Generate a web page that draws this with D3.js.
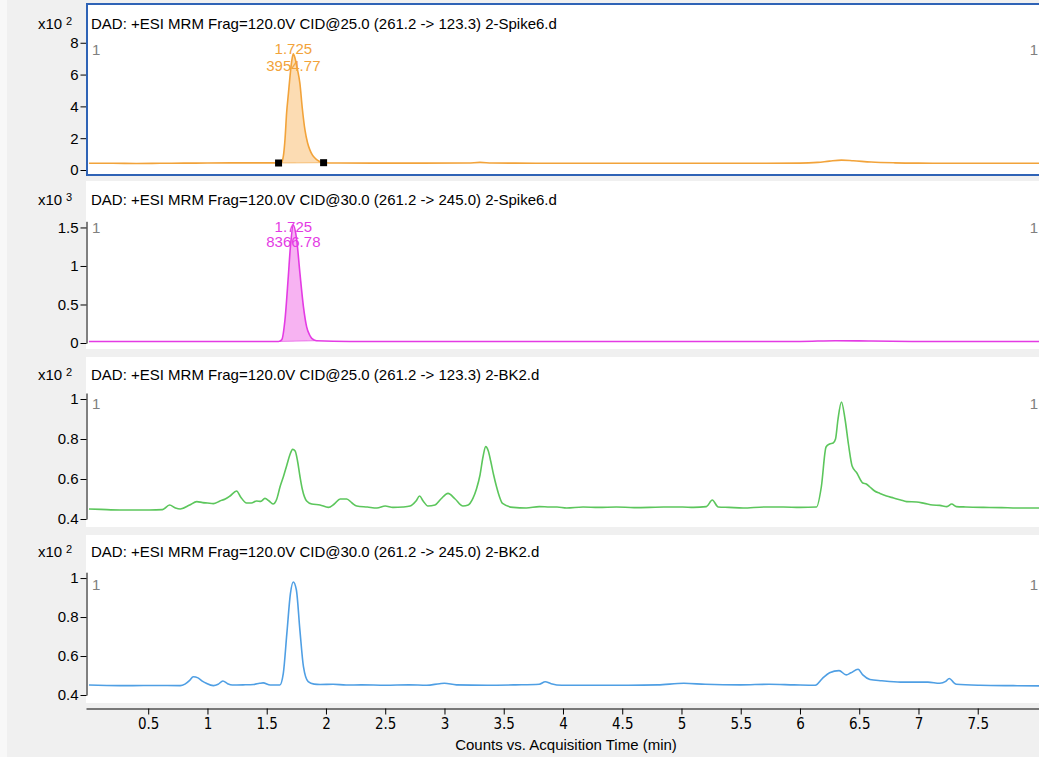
<!DOCTYPE html>
<html><head><meta charset="utf-8">
<script src="https://cdn.jsdelivr.net/npm/d3@7"></script>
<style>html,body{margin:0;padding:0;background:#f0f0f0;}svg{display:block;}</style>
</head><body><svg id="c" width="1039" height="757"></svg>
<script>
// ---------------- DATA ----------------
const timeTicks = [0.5,1,1.5,2,2.5,3,3.5,4,4.5,5,5.5,6,6.5,7,7.5];
const xLabel = "Counts vs. Acquisition Time (min)";
const titles = [
  "DAD: +ESI MRM Frag=120.0V CID@25.0 (261.2 -> 123.3) 2-Spike6.d",
  "DAD: +ESI MRM Frag=120.0V CID@30.0 (261.2 -> 245.0) 2-Spike6.d",
  "DAD: +ESI MRM Frag=120.0V CID@25.0 (261.2 -> 123.3) 2-BK2.d",
  "DAD: +ESI MRM Frag=120.0V CID@30.0 (261.2 -> 245.0) 2-BK2.d"
];
const exponents = ["2","3","2","2"];
const yTicks1 = [0,2,4,6,8];
const yTicks2 = [0,0.5,1,1.5];
const yTicks3 = [0.4,0.6,0.8,1];
const yTicks4 = [0.4,0.6,0.8,1];
const peakRT = "1.725";
const peakAreas = ["3954.77","8366.78"];
const integ1 = [1.6, 1.98];
const integ2 = [1.6, 1.92];

// Spike6 CID@25 (x10^2)
const t1 = [0,0.2,0.4,0.6,0.8,1.0,1.2,1.4,1.5,1.6,1.625,1.64,1.655,1.668,1.683,1.696,1.71,1.724,1.74,1.76,1.78,1.80,1.823,1.845,1.865,1.885,1.907,1.93,1.95,1.98,2.1,2.4,2.8,3.2,3.3,3.4,3.6,4.0,4.5,5.0,5.5,6.0,6.15,6.25,6.35,6.45,6.6,6.8,7.0,7.4,8.02];
const v1 = [0.42,0.42,0.41,0.42,0.43,0.44,0.45,0.45,0.45,0.44,0.5,0.85,2.0,3.6,4.8,5.85,6.8,7.3,7.0,6.3,5.45,3.9,2.5,1.7,1.25,0.95,0.75,0.6,0.52,0.46,0.44,0.43,0.43,0.44,0.48,0.44,0.43,0.42,0.42,0.42,0.42,0.43,0.48,0.56,0.62,0.58,0.5,0.45,0.43,0.42,0.42];

// Spike6 CID@30 (x10^3)
const t2 = [0,0.5,1.0,1.5,1.6,1.626,1.654,1.682,1.70,1.724,1.753,1.78,1.81,1.837,1.86,1.88,1.92,2.2,3.0,4.0,5.0,6.0,6.3,6.6,7.0,8.02];
const v2 = [0.02,0.02,0.02,0.02,0.02,0.04,0.3,0.86,1.25,1.53,1.34,0.91,0.47,0.21,0.11,0.06,0.03,0.02,0.02,0.02,0.02,0.02,0.03,0.025,0.02,0.02];

// BK2 CID@25 (x10^2)
const t3 = [0,0.1,0.26,0.4,0.51,0.62,0.68,0.73,0.77,0.85,0.91,0.96,1.0,1.05,1.105,1.15,1.19,1.246,1.28,1.33,1.37,1.415,1.45,1.485,1.52,1.553,1.585,1.612,1.64,1.67,1.695,1.719,1.74,1.76,1.78,1.80,1.837,1.88,1.95,2.02,2.07,2.12,2.175,2.22,2.26,2.35,2.43,2.50,2.565,2.65,2.71,2.76,2.79,2.82,2.86,2.92,2.97,3.03,3.09,3.156,3.2,3.24,3.27,3.30,3.325,3.348,3.37,3.39,3.415,3.44,3.465,3.49,3.58,3.69,3.80,3.89,3.95,4.03,4.17,4.3,4.45,4.6,4.73,4.85,5.01,5.1,5.21,5.26,5.31,5.4,5.52,5.7,5.86,6.0,6.14,6.18,6.22,6.25,6.28,6.30,6.32,6.35,6.38,6.41,6.44,6.48,6.53,6.56,6.59,6.63,6.675,6.73,6.79,6.85,6.90,6.985,7.05,7.12,7.18,7.24,7.28,7.32,7.4,7.55,7.7,7.83,8.02];
const v3 = [0.45,0.448,0.445,0.445,0.445,0.447,0.47,0.455,0.45,0.47,0.487,0.482,0.48,0.477,0.49,0.5,0.515,0.54,0.51,0.48,0.48,0.49,0.488,0.503,0.49,0.475,0.5,0.56,0.61,0.67,0.72,0.748,0.74,0.69,0.615,0.55,0.49,0.475,0.47,0.458,0.475,0.5,0.5,0.48,0.465,0.46,0.455,0.465,0.458,0.46,0.465,0.49,0.515,0.49,0.465,0.47,0.5,0.528,0.5,0.465,0.47,0.503,0.55,0.62,0.71,0.762,0.74,0.69,0.62,0.56,0.51,0.478,0.458,0.455,0.462,0.46,0.46,0.455,0.46,0.458,0.46,0.457,0.458,0.46,0.46,0.458,0.462,0.495,0.46,0.458,0.455,0.46,0.46,0.458,0.46,0.56,0.76,0.775,0.78,0.8,0.895,0.985,0.9,0.77,0.665,0.63,0.58,0.575,0.56,0.54,0.528,0.515,0.505,0.495,0.487,0.485,0.478,0.47,0.468,0.462,0.475,0.462,0.46,0.458,0.457,0.455,0.455];

// BK2 CID@30 (x10^2)
const t4 = [0,0.15,0.37,0.55,0.77,0.81,0.85,0.88,0.92,0.96,0.99,1.05,1.09,1.13,1.17,1.21,1.3,1.39,1.44,1.47,1.53,1.61,1.64,1.67,1.70,1.724,1.75,1.78,1.81,1.85,1.9,1.95,2.06,2.17,2.3,2.5,2.7,2.85,2.96,3.0,3.1,3.36,3.6,3.8,3.85,3.9,3.99,4.2,4.55,4.8,5.02,5.2,5.5,5.74,5.95,6.13,6.19,6.25,6.33,6.39,6.43,6.49,6.53,6.59,6.69,6.85,7.08,7.18,7.23,7.26,7.3,7.32,7.52,7.8,8.02];
const v4 = [0.451,0.449,0.448,0.449,0.448,0.456,0.475,0.494,0.488,0.47,0.46,0.448,0.455,0.472,0.458,0.451,0.452,0.454,0.46,0.462,0.451,0.451,0.511,0.716,0.92,0.98,0.94,0.733,0.545,0.468,0.456,0.454,0.455,0.451,0.452,0.45,0.452,0.45,0.458,0.46,0.452,0.45,0.452,0.455,0.468,0.458,0.45,0.45,0.45,0.452,0.46,0.455,0.452,0.455,0.452,0.45,0.485,0.514,0.525,0.503,0.514,0.532,0.503,0.48,0.473,0.466,0.466,0.46,0.47,0.485,0.462,0.455,0.45,0.448,0.447];

// ---------------- LAYOUT ----------------
const svg = d3.select("#c");
const W = 1039, H = 757;
const FONT = "'Liberation Sans', Arial, sans-serif";
const NARROW = "'Liberation Sans Narrow', 'DejaVu Sans Condensed', Arial, sans-serif";

svg.append("rect").attr("x",0).attr("y",0).attr("width",W).attr("height",H).attr("fill","#f0f0f0");
svg.append("rect").attr("x",0).attr("y",0).attr("width",7).attr("height",H).attr("fill","#f8f8f8");

const x = d3.scaleLinear().domain([-0.025, 8.017]).range([86, 1039]);

const panels = [
  {t:t1, v:v1, ticks:yTicks1, top:3, bottom:176, dom:[0,8.4], rng:[170,36.4], titleY:29, oneY:55,
   color:"#f2a33a", fill:"#fbd6a6", integ:integ1, area:peakAreas[0], lblY:[54,71], squares:true, selected:true},
  {t:t2, v:v2, ticks:yTicks2, top:181, bottom:349, dom:[0,1.58], rng:[343,221.3], titleY:205, oneY:233,
   color:"#e43be4", fill:"#f6a6f0", integ:integ2, area:peakAreas[1], lblY:[232,247]},
  {t:t3, v:v3, ticks:yTicks3, top:357, bottom:527, dom:[0.4,1.03], rng:[519,393], titleY:380, oneY:409,
   color:"#5cc65c"},
  {t:t4, v:v4, ticks:yTicks4, top:535, bottom:703, dom:[0.4,1.03], rng:[695,572.2], titleY:557, oneY:590,
   color:"#4f9fe4"}
];

panels.forEach((p, i) => {
  const g = svg.append("g");
  g.append("rect").attr("x",86).attr("y",p.top).attr("width",W-86).attr("height",p.bottom-p.top).attr("fill","#ffffff");
  const y = d3.scaleLinear().domain(p.dom).range(p.rng);
  const cid = "clip"+i;
  svg.append("clipPath").attr("id",cid).append("rect")
    .attr("x",87).attr("y",p.top).attr("width",W-87).attr("height",p.bottom-p.top);
  const pts = p.t.map((tt,k)=>({t:tt, v:p.v[k]}));
  const plot = g.append("g").attr("clip-path",`url(#${cid})`);

  if (p.integ) {
    const a = p.integ[0], b = p.integ[1];
    const sub = pts.filter(d => d.t >= a - 1e-9 && d.t <= b + 1e-9);
    const va = sub[0].v, vb = sub[sub.length-1].v;
    const base = tt => va + (vb - va) * (tt - a) / (b - a);
    plot.append("path").datum(sub)
      .attr("d", d3.area().curve(d3.curveMonotoneX).x(d=>x(d.t)).y0(d=>y(base(d.t))).y1(d=>y(d.v)))
      .attr("fill", p.fill).attr("opacity",0.85);
    plot.append("line").attr("x1",x(a)).attr("x2",x(b)).attr("y1",y(va)).attr("y2",y(vb))
      .attr("stroke",p.color).attr("stroke-width",1).attr("opacity",0.6);
  }
  plot.append("path").datum(pts)
    .attr("d", d3.line().curve(d3.curveMonotoneX).x(d=>x(d.t)).y(d=>y(d.v)))
    .attr("fill","none").attr("stroke",p.color).attr("stroke-width",1.6);

  if (p.squares) {
    p.integ.forEach(tt => {
      const d = pts.find(q => Math.abs(q.t - tt) < 1e-9);
      plot.append("rect").attr("x",x(tt)-3.5).attr("y",y(d.v)-3.5).attr("width",7).attr("height",7).attr("fill","#000");
    });
  }
  if (p.area) {
    g.append("text").attr("x",x(+peakRT)).attr("y",p.lblY[0]).attr("text-anchor","middle")
      .attr("font-family",FONT).attr("font-size",15).attr("fill",p.color).text(peakRT);
    g.append("text").attr("x",x(+peakRT)).attr("y",p.lblY[1]).attr("text-anchor","middle")
      .attr("font-family",FONT).attr("font-size",15).attr("fill",p.color).text(p.area);
  }

  // y axis
  const ax = d3.axisLeft(y).tickValues(p.ticks).tickSize(6).tickPadding(2).tickSizeOuter(0)
    .tickFormat(d => String(d));
  const ag = g.append("g").attr("transform","translate(86.5,0)").call(ax);
  ag.selectAll("text").attr("font-family",FONT).attr("font-size",15).attr("fill","#000");
  ag.selectAll("line,path").attr("stroke","#000");

  // title + exponent
  g.append("text").attr("x",91).attr("y",p.titleY).attr("font-family",FONT).attr("font-size",15)
    .attr("fill","#000").text(titles[i]);
  g.append("text").attr("x",38).attr("y",p.titleY).attr("font-family",FONT).attr("font-size",15)
    .attr("fill","#000").text("x10");
  g.append("text").attr("x",66).attr("y",p.titleY-4).attr("font-family",FONT).attr("font-size",11)
    .attr("fill","#000").text(exponents[i]);
  // "1" markers
  g.append("text").attr("x",92).attr("y",p.oneY).attr("font-family",FONT).attr("font-size",15)
    .attr("fill","#808080").text("1");
  g.append("text").attr("x",1038).attr("y",p.oneY).attr("text-anchor","end").attr("font-family",FONT).attr("font-size",15)
    .attr("fill","#808080").text("1");

  if (p.selected) {
    g.append("rect").attr("x",87).attr("y",4).attr("width",W).attr("height",p.bottom-5)
      .attr("fill","none").attr("stroke","#2f63b6").attr("stroke-width",2);
  }
});

// x axis
const xa = d3.axisBottom(x).tickValues(timeTicks).tickSize(6).tickPadding(4).tickSizeOuter(0)
  .tickFormat(d => String(d));
const xg = svg.append("g").attr("transform","translate(0,708.5)").call(xa);
xg.selectAll("text").attr("font-family",NARROW).attr("font-size",15).attr("fill","#000");
xg.selectAll("line,path").attr("stroke","#000");

svg.append("text").attr("x",566).attr("y",750).attr("text-anchor","middle")
  .attr("font-family",FONT).attr("font-size",15).attr("fill","#000").text(xLabel);
</script></body></html>
